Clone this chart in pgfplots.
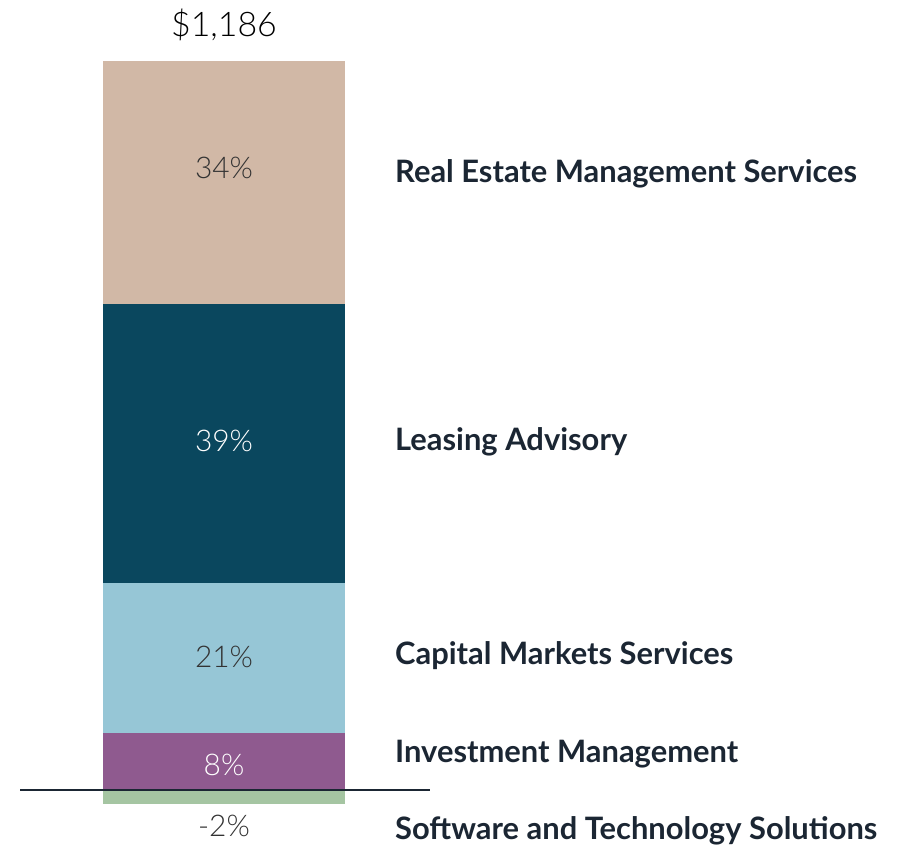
\documentclass[border=0pt]{standalone}
\usepackage{fontspec}
\setmainfont{Lato}
\newfontfamily\lightfont{Lato Light}
\usepackage{pgfplots}
\pgfplotsset{compat=1.18}

\definecolor{cTan}{HTML}{D1B8A6}
\definecolor{cDark}{HTML}{0A475E}
\definecolor{cLight}{HTML}{96C6D6}
\definecolor{cPurple}{HTML}{8F5A8F}
\definecolor{cGreen}{HTML}{A5C5A2}
\definecolor{cText}{HTML}{1B2633}
\definecolor{cPct}{HTML}{333333}

% one px of the reference = 1bp; 7.15 px per percentage point, zero at y=790
\pgfplotsset{base/.style={
    width=904bp, height=845bp, scale only axis,
    xmin=0, xmax=904, ymin=-7.69, ymax=110.49,
    hide axis, clip=false, enlargelimits=false,
}}
\newcommand{\pct}{\fontsize{30}{34}\selectfont\lightfont}
\newcommand{\cat}{\fontsize{31}{35}\selectfont\bfseries}

\begin{document}
\begin{tikzpicture}
\begin{axis}[base, ybar stacked, bar width=242]
  \path (rel axis cs:0,0) rectangle (rel axis cs:1,1);
  \addplot[fill=cPurple, draw=none] coordinates {(224,8)};
  \addplot[fill=cLight, draw=none] coordinates {(224,21)};
  \addplot[fill=cDark, draw=none] coordinates {(224,39)};
  \addplot[fill=cTan, draw=none] coordinates {(224,34)};
\end{axis}
\begin{axis}[base]
  \addplot[ybar, bar width=242, bar shift=0pt, fill=cGreen, draw=none] coordinates {(224,-2)};
  \addplot[cText, line width=1.2bp] coordinates {(20,0) (430,0)};

  \node[font=\fontsize{34}{38}\selectfont\lightfont, text=black] at (axis cs:224,107.0) {\$1,186};
  \node[font=\pct, text=cPct] at (axis cs:224,87.0) {34\%};
  \node[font=\pct, text=white] at (axis cs:224,48.8) {39\%};
  \node[font=\pct, text=cPct] at (axis cs:224,18.6) {21\%};
  \node[font=\pct, text=white] at (axis cs:224,3.5) {8\%};
  \node[font=\pct, text=cPct] at (axis cs:224,-5.0) {-2\%};

  \begin{scope}[every node/.style={font=\cat, text=cText, anchor=base west, inner sep=0pt}]
  \node at (axis cs:395,84.9) {Real Estate Management Services};
  \node at (axis cs:395,47.55) {Leasing Advisory};
  \node at (axis cs:395,17.62) {Capital Markets Services};
  \node at (axis cs:395,3.78) {Investment Management};
  \node at (axis cs:395,-6.99) {Software and Technology Solutions};
  \end{scope}
\end{axis}
\end{tikzpicture}
\end{document}
